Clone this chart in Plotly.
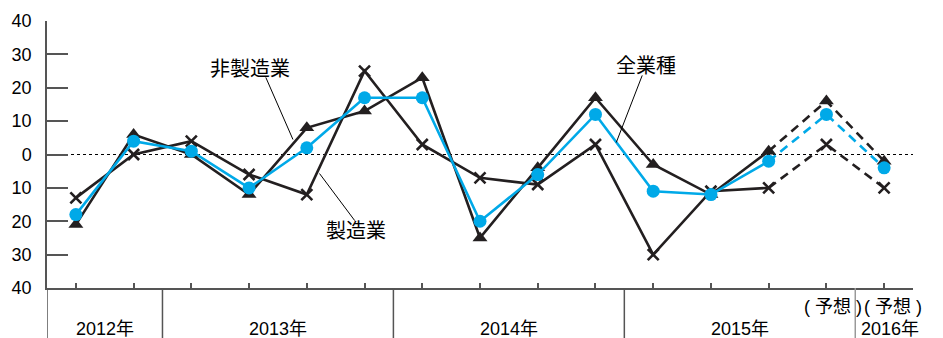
import plotly.graph_objects as go

# ---- data ----
x_idx = list(range(15))
all_ind = [-18, 4, 1, -10, 2, 17, 17, -20, -6, 12, -11, -12, -2, 12, -4]      # 全業種
non_mfg = [-21, 6, 0, -12, 8, 13, 23, -25, -4, 17, -3, -12, 1, 16, -2]        # 非製造業
mfg     = [-13, 0, 4, -6, -12, 25, 3, -7, -9, 3, -30, -11, -10, 3, -10]       # 製造業
n_actual = 13  # first 13 points actual, rest forecast

y_ticks = [40, 30, 20, 10, 0, -10, -20, -30, -40]
y_tick_text = ["40", "30", "20", "10", "0", "10", "20", "30", "40"]

year_labels = ["2012年", "2013年", "2014年", "2015年", "2016年"]
year_centers = [0.5, 3.5, 7.5, 11.5, 14.1]
year_bounds = [1.5, 5.5, 9.5, 13.5]
forecast_label = "( 予想 )"

BLUE = "#00A9E8"
BLACK = "#231F20"
AXIS = "#555555"
FONT = "Liberation Sans, Arial, Noto Sans CJK JP, sans-serif"

fig = go.Figure()

def add_series(vals, color, symbol, msize, mline=0):
    xa = x_idx[:n_actual]
    ya = vals[:n_actual]
    xf = x_idx[n_actual - 1:]
    yf = vals[n_actual - 1:]
    mk = dict(symbol=symbol, size=msize, color=color,
              line=dict(width=mline, color=color))
    fig.add_trace(go.Scatter(x=xa, y=ya, mode="lines+markers",
                             line=dict(color=color, width=2.6),
                             marker=mk, showlegend=False, cliponaxis=False))
    fig.add_trace(go.Scatter(x=xf, y=yf, mode="lines",
                             line=dict(color=color, width=2.6, dash="9px,6px"),
                             showlegend=False, cliponaxis=False))
    fig.add_trace(go.Scatter(x=x_idx[n_actual:], y=vals[n_actual:], mode="markers",
                             marker=mk, showlegend=False, cliponaxis=False))

add_series(non_mfg, BLACK, "triangle-up", 13)
add_series(mfg, BLACK, "x-thin", 11, mline=2.6)
add_series(all_ind, BLUE, "circle", 13)

shapes = []
# zero dotted line
shapes.append(dict(type="line", xref="x", yref="y", x0=-0.5, x1=14.5, y0=0, y1=0,
                   line=dict(color="black", width=1, dash="3px,3px"), layer="below"))
# y axis extension below the plot
shapes.append(dict(type="line", xref="x", yref="paper", x0=-0.5, x1=-0.5, y0=0, y1=-0.19,
                   line=dict(color=AXIS, width=1.5)))
for i, b in enumerate(year_bounds):
    shapes.append(dict(type="line", xref="x", yref="paper", x0=b, x1=b, y0=0, y1=-0.19,
                       line=dict(color="#999999" if i == 3 else AXIS, width=1.5)))
# leader lines
leaders = [((3.29, 23.1), (3.76, 4.5)), ((4.83, -19.8), (4.22, -5.7)), ((9.81, 23.7), (9.36, 3.6))]
for (xa, ya), (xb, yb) in leaders:
    shapes.append(dict(type="line", xref="x", yref="y", x0=xa, y0=ya, x1=xb, y1=yb,
                       line=dict(color="black", width=1)))

annotations = []
for lbl, c in zip(year_labels, year_centers):
    annotations.append(dict(x=c, y=-0.154, xref="x", yref="paper", text=lbl, showarrow=False,
                            font=dict(size=18, color="black", family=FONT),
                            xanchor="center", yanchor="middle"))
for fx in [13.12, 14.16]:
    annotations.append(dict(x=fx, y=-0.071, xref="x", yref="paper", text=forecast_label,
                            showarrow=False, font=dict(size=18, color="black", family=FONT),
                            xanchor="center", yanchor="middle"))
for txt, ax, ay in [("非製造業", 3.01, 25.5), ("製造業", 4.86, -22.8), ("全業種", 9.88, 26.4)]:
    annotations.append(dict(x=ax, y=ay, xref="x", yref="y", text=txt, showarrow=False,
                            font=dict(size=20, color="black", family=FONT),
                            xanchor="center", yanchor="middle"))

fig.update_layout(
    width=943, height=338,
    margin=dict(l=47, r=30, t=21, b=50),
    paper_bgcolor="white", plot_bgcolor="white",
    font=dict(family=FONT, color="black"),
    shapes=shapes, annotations=annotations,
    xaxis=dict(range=[-0.5, 14.5], tickvals=x_idx, showticklabels=False,
               ticks="inside", ticklen=5, tickcolor=AXIS, tickwidth=1.5,
               showline=True, linecolor=AXIS, linewidth=1.5,
               showgrid=False, zeroline=False, fixedrange=True),
    yaxis=dict(range=[-40, 40], tickvals=y_ticks, ticktext=y_tick_text,
               ticks="inside", ticklen=21, tickcolor=AXIS, tickwidth=1.5,
               showline=True, linecolor=AXIS, linewidth=1.5,
               showgrid=False, zeroline=False,
               tickfont=dict(size=18, color="black", family=FONT),
               ticklabelstandoff=10, fixedrange=True),
)

fig.write_html("out.html", config={"displayModeBar": False})
